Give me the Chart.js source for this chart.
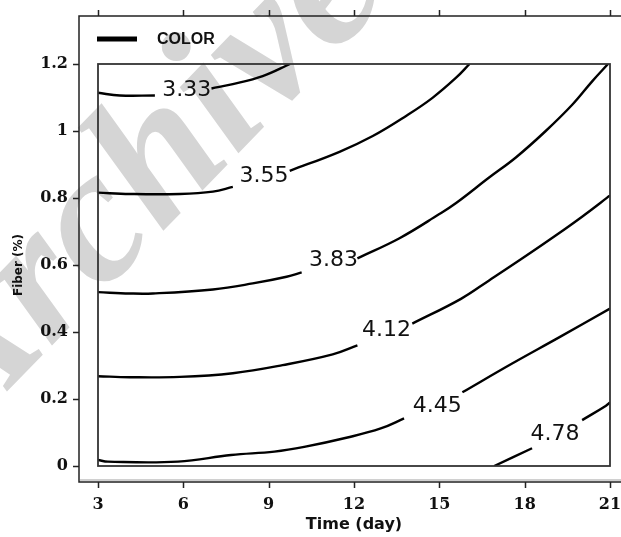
<!DOCTYPE html>
<html>
<head>
<meta charset="utf-8">
<title>Color contour</title>
<script src="https://cdn.jsdelivr.net/npm/chart.js@4.4.0/dist/chart.umd.min.js"></script>
<style>
  html, body { margin: 0; padding: 0; background: #fff; }
  canvas { display: block; }
</style>
</head>
<body>
<canvas id="contour" width="621" height="537"></canvas>
<script>
// === Axis ticks ===
const timeTicks = [3, 6, 9, 12, 15, 18, 21];
const fiberTicks = [0, 0.2, 0.4, 0.6, 0.8, 1, 1.2];

// === Contour levels ===
const levels = ["3.33", "3.55", "3.83", "4.12", "4.45", "4.78"];

// each contour: time (day) vs fiber (%), null leaves room for the level label
const c333Time  = [3, 3.77, 5.0, 6.12, 6.99, 7.74, 8.79, 9.75];
const c333Fiber = [1.114, 1.106, 1.106, null, 1.127, 1.14, 1.164, 1.2];

const c355Time  = [3, 4.12, 5.88, 7.04, 7.74, 8.84, 9.74, 11.49, 12.66, 13.83, 14.76, 15.59, 16.06];
const c355Fiber = [0.816, 0.812, 0.812, 0.819, 0.833, null, 0.881, 0.938, 0.985, 1.045, 1.099, 1.159, 1.2];

const c383Time  = [3, 4.12, 4.93, 7.04, 8.44, 9.63, 10.16, 11.28, 12.12, 13.6, 15.0, 15.59, 16.75, 17.69, 18.74, 19.68, 20.38, 20.93];
const c383Fiber = [0.519, 0.515, 0.515, 0.527, 0.545, 0.565, 0.578, null, 0.62, 0.68, 0.752, 0.785, 0.861, 0.921, 1.0, 1.079, 1.149, 1.2];

const c412Time  = [3, 4.12, 5.88, 7.74, 9.49, 11.25, 12.12, 13.14, 14.05, 15.76, 16.75, 17.92, 19.09, 20.03, 20.9, 21];
const c412Fiber = [0.268, 0.265, 0.266, 0.277, 0.301, 0.333, 0.36, null, 0.425, 0.499, 0.554, 0.62, 0.688, 0.745, 0.801, 0.808];

const c445Time  = [3, 3.35, 5.81, 7.68, 9.2, 10.25, 11.77, 12.94, 13.76, 14.93, 15.81, 17.56, 19.21, 21];
const c445Fiber = [0.018, 0.013, 0.013, 0.033, 0.043, 0.057, 0.085, 0.112, 0.142, null, 0.22, 0.306, 0.384, 0.47];

const c478Time  = [16.93, 18.26, 19.07, 20.02, 20.86, 21];
const c478Fiber = [0, 0.053, null, 0.137, 0.18, 0.19];

// label anchor for each level
const labelTime  = [6.12, 8.84, 11.28, 13.14, 14.93, 19.07];
const labelFiber = [1.121, 0.864, 0.613, 0.405, 0.179, 0.095];

const toPoints = (t, f) => t.map((x, i) => ({ x, y: f[i] }));

const contours = [
  toPoints(c333Time, c333Fiber),
  toPoints(c355Time, c355Fiber),
  toPoints(c383Time, c383Fiber),
  toPoints(c412Time, c412Fiber),
  toPoints(c445Time, c445Fiber),
  toPoints(c478Time, c478Fiber),
];

// outer box of the plot (axis lines sit away from the data frame)
const OUTER_LEFT = 79;
const OUTER_TOP = 16;
const OUTER_BOTTOM = 482;
const TICK_LEN = 6;

// === Frame, legend, level labels ===
const framePlugin = {
  id: "frame",
  beforeDraw(chart) {
    const ctx = chart.ctx;
    ctx.save();
    ctx.fillStyle = "#fff";
    ctx.fillRect(0, 0, chart.width, chart.height);
    // archive stamp behind the plot
    ctx.translate(-40, 440);
    ctx.rotate(-0.8);
    ctx.font = "italic bold 192px 'Liberation Serif'";
    ctx.fillStyle = "#d5d5d5";
    ctx.fillText("Archive", 0, 0);
    ctx.restore();
  },
  afterDatasetsDraw(chart) {
    const ctx = chart.ctx;
    const { x, y } = chart.scales;
    ctx.save();
    ctx.font = "22px 'DejaVu Sans'";
    ctx.fillStyle = "#111";
    ctx.textAlign = "center";
    ctx.textBaseline = "middle";
    levels.forEach((lv, i) => {
      ctx.fillText(lv, x.getPixelForValue(labelTime[i]), y.getPixelForValue(labelFiber[i]));
    });
    ctx.restore();
  },
  afterDraw(chart) {
    const ctx = chart.ctx;
    const { x, y } = chart.scales;
    const area = chart.chartArea;
    ctx.save();

    // outer axes
    ctx.fillStyle = "#d0d0d0";
    ctx.fillRect(OUTER_LEFT + 1, OUTER_BOTTOM - 3, chart.width - OUTER_LEFT, 2);
    ctx.strokeStyle = "#222";
    ctx.lineWidth = 1.5;
    ctx.beginPath();
    ctx.moveTo(chart.width, OUTER_TOP);
    ctx.lineTo(OUTER_LEFT, OUTER_TOP);
    ctx.lineTo(OUTER_LEFT, OUTER_BOTTOM);
    ctx.lineTo(chart.width, OUTER_BOTTOM);
    ctx.stroke();

    ctx.beginPath();
    timeTicks.forEach((t) => {
      const px = Math.round(x.getPixelForValue(t)) + 0.5;
      ctx.moveTo(px, OUTER_BOTTOM);
      ctx.lineTo(px, OUTER_BOTTOM + TICK_LEN);
      ctx.moveTo(px, OUTER_TOP);
      ctx.lineTo(px, OUTER_TOP - TICK_LEN);
    });
    fiberTicks.forEach((f) => {
      const py = Math.round(y.getPixelForValue(f)) + 0.5;
      ctx.moveTo(OUTER_LEFT, py);
      ctx.lineTo(OUTER_LEFT - TICK_LEN, py);
    });
    ctx.stroke();

    // data frame
    ctx.strokeStyle = "#333";
    ctx.lineWidth = 1.8;
    ctx.strokeRect(area.left, area.top, area.right - area.left, area.bottom - area.top);

    // legend
    ctx.strokeStyle = "#000";
    ctx.lineWidth = 5;
    ctx.beginPath();
    ctx.moveTo(97, 39);
    ctx.lineTo(137, 39);
    ctx.stroke();
    ctx.fillStyle = "#111";
    ctx.font = "bold 16px 'Liberation Sans'";
    ctx.textBaseline = "middle";
    ctx.fillText("COLOR", 157, 40);

    ctx.restore();
  },
};

new Chart(document.getElementById("contour"), {
  type: "line",
  data: {
    datasets: contours.map((pts, i) => ({
      label: levels[i],
      data: pts,
      borderColor: "#000",
      borderWidth: 2.4,
      pointRadius: 0,
      tension: 0.4,
      spanGaps: false,
      fill: false,
    })),
  },
  options: {
    responsive: false,
    animation: false,
    devicePixelRatio: 1,
    layout: { autoPadding: false, padding: { left: 0, right: 11, top: 64, bottom: 0 } },
    plugins: { legend: { display: false }, tooltip: { enabled: false } },
    scales: {
      x: {
        type: "linear",
        min: 3,
        max: 21,
        afterBuildTicks: (s) => { s.ticks = timeTicks.map((v) => ({ value: v })); },
        afterFit: (s) => {
          s.height = 71;
          s.paddingLeft = 0;
          s.paddingRight = 0;
        },
        grid: { display: false, drawTicks: false },
        border: { display: false },
        ticks: {
          padding: 29,
          maxRotation: 0,
          color: "#111",
          font: { family: "'DejaVu Serif'", size: 16, weight: "bold" },
        },
        title: {
          display: true,
          text: "Time (day)",
          color: "#111",
          font: { family: "'DejaVu Sans'", size: 16, weight: "bold" },
          padding: { top: 0, bottom: 3 },
        },
      },
      y: {
        type: "linear",
        min: 0,
        max: 1.2,
        afterBuildTicks: (s) => { s.ticks = fiberTicks.map((v) => ({ value: v })); },
        afterFit: (s) => {
          s.width = 98;
          s.paddingTop = 0;
          s.paddingBottom = 0;
        },
        grid: { display: false, drawTicks: false },
        border: { display: false },
        ticks: {
          padding: 30,
          color: "#111",
          font: { family: "'DejaVu Serif'", size: 16, weight: "bold" },
          callback: (v) => String(+v.toFixed(1)),
        },
        title: {
          display: true,
          text: "Fiber (%)",
          color: "#111",
          font: { family: "'DejaVu Sans'", size: 12, weight: "bold" },
          padding: { top: 12, bottom: 0 },
        },
      },
    },
  },
  plugins: [framePlugin],
});
</script>
</body>
</html>
